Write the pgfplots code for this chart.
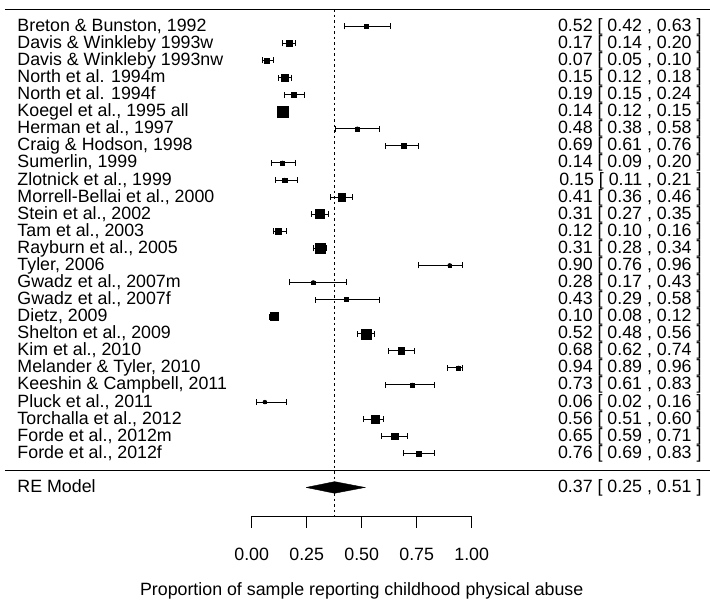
\documentclass[border=0pt]{standalone}
\usepackage{pgfplots}
\pgfplotsset{compat=1.18}
\usepackage{pgfplotstable}
\usepackage{fontspec}
\setmainfont{Liberation Sans}
\newcommand\lab{\fontsize{17.8bp}{20bp}\selectfont}

\pgfplotstableread{
row est lo hi s
26 0.52 0.42 0.63 2.0
25 0.17 0.14 0.20 3.3
24 0.07 0.05 0.10 2.5
23 0.15 0.12 0.18 3.3
22 0.19 0.15 0.24 2.3
21 0.14 0.12 0.15 5.3
20 0.48 0.38 0.58 2.0
19 0.69 0.61 0.76 2.7
18 0.14 0.09 0.20 2.0
17 0.15 0.11 0.21 2.3
16 0.41 0.36 0.46 3.7
15 0.31 0.27 0.35 4.5
14 0.12 0.10 0.16 3.0
13 0.31 0.28 0.34 5.0
12 0.90 0.76 0.96 1.3
11 0.28 0.17 0.43 1.7
10 0.43 0.29 0.58 2.0
9 0.10 0.08 0.12 4.0
8 0.52 0.48 0.56 5.0
7 0.68 0.62 0.74 3.3
6 0.94 0.89 0.96 2.0
5 0.73 0.61 0.83 2.0
4 0.06 0.02 0.16 1.3
3 0.56 0.51 0.60 4.2
2 0.65 0.59 0.71 3.3
1 0.76 0.69 0.83 2.5
}\studies

\begin{document}
\begin{tikzpicture}[
  lbl/.style={anchor=base west, inner sep=0pt, yshift=-5bp, font=\lab},
  rlbl/.style={anchor=base east, inner sep=0pt, yshift=-5bp, font=\lab},
]
\begin{axis}[
  at={(0,0)}, anchor=south west,
  scale only axis, width=710bp, height=601bp,
  xmin=-1.1441, xmax=2.0832, ymin=-7.648, ymax=27.54,
  hide axis, clip=false,
]
% horizontal rules
\addplot[black, line width=1bp] coordinates {(-1.1214,27) (2.0832,27)};
\addplot[black, line width=1bp] coordinates {(-1.1214,0) (2.0832,0)};
% reference line
\addplot[black, line width=1bp, dash pattern=on 2.5bp off 3bp] coordinates {(0.377,27) (0.377,-2.71)};
% confidence intervals
\addplot[black, only marks, mark=none,
  error bars/.cd, x dir=both, x explicit, error mark=|,
  error bar style={black, solid, line width=1bp},
  error mark options={black, solid, line width=1bp, mark size=3bp}]
  table[x=est, y=row, x error plus expr=\thisrow{hi}-\thisrow{est}, x error minus expr=\thisrow{est}-\thisrow{lo}] {\studies};
% weighted squares
\addplot[black, only marks, mark=square*, scatter,
  visualization depends on={\thisrow{s}\as\msize},
  scatter/use mapped color={draw=none, fill=black},
  scatter/@pre marker code/.append style={/tikz/mark size=\msize bp}]
  table[x=est, y=row] {\studies};
% summary diamond
\addplot[fill=black, draw=black, line width=0.4bp] coordinates {(0.247,-1) (0.377,-0.66) (0.515,-1) (0.377,-1.34) (0.247,-1)};
% x axis
\addplot[black, line width=1bp] coordinates {(0,-3.37) (0,-2.71) (1,-2.71) (1,-3.37)};
\addplot[black, line width=1bp] coordinates {(0.25,-3.37) (0.25,-2.71)};
\addplot[black, line width=1bp] coordinates {(0.5,-3.37) (0.5,-2.71)};
\addplot[black, line width=1bp] coordinates {(0.75,-3.37) (0.75,-2.71)};
\node[anchor=base, inner sep=0pt, font=\lab] at (axis cs:0,-5.25) {0.00};
\node[anchor=base, inner sep=0pt, font=\lab] at (axis cs:0.25,-5.25) {0.25};
\node[anchor=base, inner sep=0pt, font=\lab] at (axis cs:0.5,-5.25) {0.50};
\node[anchor=base, inner sep=0pt, font=\lab] at (axis cs:0.75,-5.25) {0.75};
\node[anchor=base, inner sep=0pt, font=\lab] at (axis cs:1,-5.25) {1.00};
\node[anchor=base, inner sep=0pt, font=\lab] at (axis cs:0.5,-7.30) {Proportion of sample reporting childhood physical abuse};
% study labels
\node[lbl] at (axis cs:-1.0655,26) {Breton \& Bunston, 1992};
\node[lbl] at (axis cs:-1.0655,25) {Davis \& Winkleby 1993w};
\node[lbl] at (axis cs:-1.0655,24) {Davis \& Winkleby 1993nw};
\node[lbl] at (axis cs:-1.0655,23) {North et al. 1994m};
\node[lbl] at (axis cs:-1.0655,22) {North et al. 1994f};
\node[lbl] at (axis cs:-1.0655,21) {Koegel et al., 1995 all};
\node[lbl] at (axis cs:-1.0655,20) {Herman et al., 1997};
\node[lbl] at (axis cs:-1.0655,19) {Craig \& Hodson, 1998};
\node[lbl] at (axis cs:-1.0655,18) {Sumerlin, 1999};
\node[lbl] at (axis cs:-1.0655,17) {Zlotnick et al., 1999};
\node[lbl] at (axis cs:-1.0655,16) {Morrell-Bellai et al., 2000};
\node[lbl] at (axis cs:-1.0655,15) {Stein et al., 2002};
\node[lbl] at (axis cs:-1.0655,14) {Tam et al., 2003};
\node[lbl] at (axis cs:-1.0655,13) {Rayburn et al., 2005};
\node[lbl] at (axis cs:-1.0655,12) {Tyler, 2006};
\node[lbl] at (axis cs:-1.0655,11) {Gwadz et al., 2007m};
\node[lbl] at (axis cs:-1.0655,10) {Gwadz et al., 2007f};
\node[lbl] at (axis cs:-1.0655,9) {Dietz, 2009};
\node[lbl] at (axis cs:-1.0655,8) {Shelton et al., 2009};
\node[lbl] at (axis cs:-1.0655,7) {Kim et al., 2010};
\node[lbl] at (axis cs:-1.0655,6) {Melander \& Tyler, 2010};
\node[lbl] at (axis cs:-1.0655,5) {Keeshin \& Campbell, 2011};
\node[lbl] at (axis cs:-1.0655,4) {Pluck et al., 2011};
\node[lbl] at (axis cs:-1.0655,3) {Torchalla et al., 2012};
\node[lbl] at (axis cs:-1.0655,2) {Forde et al., 2012m};
\node[lbl] at (axis cs:-1.0655,1) {Forde et al., 2012f};
\node[lbl] at (axis cs:-1.0655,-1) {RE Model};
% estimates
\node[rlbl] at (axis cs:2.0455,26) {0.52 [ 0.42 , 0.63 ]};
\node[rlbl] at (axis cs:2.0455,25) {0.17 [ 0.14 , 0.20 ]};
\node[rlbl] at (axis cs:2.0455,24) {0.07 [ 0.05 , 0.10 ]};
\node[rlbl] at (axis cs:2.0455,23) {0.15 [ 0.12 , 0.18 ]};
\node[rlbl] at (axis cs:2.0455,22) {0.19 [ 0.15 , 0.24 ]};
\node[rlbl] at (axis cs:2.0455,21) {0.14 [ 0.12 , 0.15 ]};
\node[rlbl] at (axis cs:2.0455,20) {0.48 [ 0.38 , 0.58 ]};
\node[rlbl] at (axis cs:2.0455,19) {0.69 [ 0.61 , 0.76 ]};
\node[rlbl] at (axis cs:2.0455,18) {0.14 [ 0.09 , 0.20 ]};
\node[rlbl] at (axis cs:2.0455,17) {0.15 [ 0.11 , 0.21 ]};
\node[rlbl] at (axis cs:2.0455,16) {0.41 [ 0.36 , 0.46 ]};
\node[rlbl] at (axis cs:2.0455,15) {0.31 [ 0.27 , 0.35 ]};
\node[rlbl] at (axis cs:2.0455,14) {0.12 [ 0.10 , 0.16 ]};
\node[rlbl] at (axis cs:2.0455,13) {0.31 [ 0.28 , 0.34 ]};
\node[rlbl] at (axis cs:2.0455,12) {0.90 [ 0.76 , 0.96 ]};
\node[rlbl] at (axis cs:2.0455,11) {0.28 [ 0.17 , 0.43 ]};
\node[rlbl] at (axis cs:2.0455,10) {0.43 [ 0.29 , 0.58 ]};
\node[rlbl] at (axis cs:2.0455,9) {0.10 [ 0.08 , 0.12 ]};
\node[rlbl] at (axis cs:2.0455,8) {0.52 [ 0.48 , 0.56 ]};
\node[rlbl] at (axis cs:2.0455,7) {0.68 [ 0.62 , 0.74 ]};
\node[rlbl] at (axis cs:2.0455,6) {0.94 [ 0.89 , 0.96 ]};
\node[rlbl] at (axis cs:2.0455,5) {0.73 [ 0.61 , 0.83 ]};
\node[rlbl] at (axis cs:2.0455,4) {0.06 [ 0.02 , 0.16 ]};
\node[rlbl] at (axis cs:2.0455,3) {0.56 [ 0.51 , 0.60 ]};
\node[rlbl] at (axis cs:2.0455,2) {0.65 [ 0.59 , 0.71 ]};
\node[rlbl] at (axis cs:2.0455,1) {0.76 [ 0.69 , 0.83 ]};
\node[rlbl] at (axis cs:2.0455,-1) {0.37 [ 0.25 , 0.51 ]};
\end{axis}
\pgfresetboundingbox
\path (0,0) rectangle (710bp,601bp);
\end{tikzpicture}
\end{document}
